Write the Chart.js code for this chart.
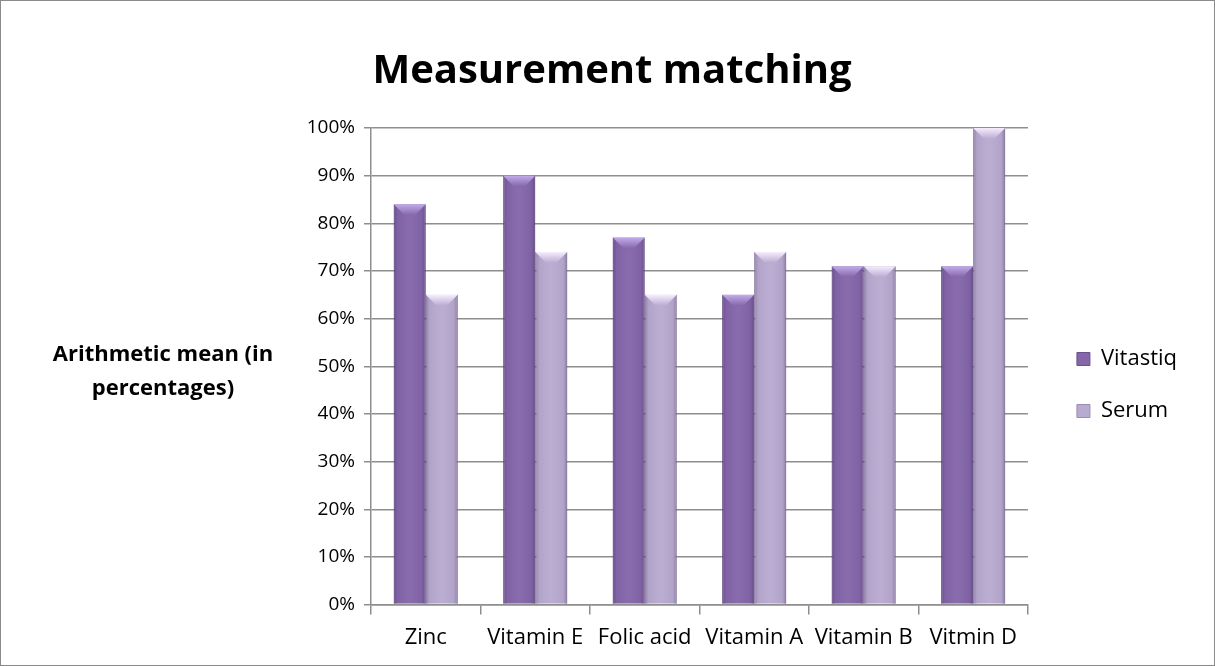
<!DOCTYPE html>
<html>
<head>
<meta charset="utf-8">
<script src="https://cdn.jsdelivr.net/npm/chart.js@4.4.1/dist/chart.umd.min.js"></script>
<style>
  html, body { margin: 0; padding: 0; background: #fff; }
  #wrap { position: relative; width: 1215px; height: 666px; box-sizing: border-box; border: 1px solid #8a8a8a; }
  canvas { display: block; }
</style>
</head>
<body>
<div id="wrap"><canvas id="chart"></canvas></div>
<script>
// data
const categories = ["Zinc", "Vitamin E", "Folic acid", "Vitamin A", "Vitamin B", "Vitmin D"];
const vitastiq = [84, 90, 77, 65, 71, 71];
const serum = [65, 74, 65, 74, 71, 100];
const yTicks = [0, 10, 20, 30, 40, 50, 60, 70, 80, 90, 100];
const chartTitle = "Measurement matching";
const yTitle = ["Arithmetic mean (in", "percentages)"];

const FONT = "'Open Sans', Lato, sans-serif";

// side shading + top bevel, like the office 3d-ish bars
const bevelBars = {
  id: "bevelBars",
  afterDatasetsDraw(chart) {
    const ctx = chart.ctx;
    chart.data.datasets.forEach((ds, i) => {
      const meta = chart.getDatasetMeta(i);
      meta.data.forEach((bar) => {
        const left = bar.x - bar.width / 2;
        const right = bar.x + bar.width / 2;
        const top = bar.y;
        const bottom = bar.base;
        ctx.save();
        const g = ctx.createLinearGradient(left, 0, right, 0);
        g.addColorStop(0, "rgba(40,20,70,0.28)");
        g.addColorStop(0.12, "rgba(40,20,70,0.05)");
        g.addColorStop(0.5, "rgba(255,255,255,0.04)");
        g.addColorStop(0.88, "rgba(40,20,70,0.05)");
        g.addColorStop(1, "rgba(40,20,70,0.3)");
        ctx.fillStyle = g;
        ctx.fillRect(left, top, right - left, bottom - top);
        const d = 11;
        const bg = ctx.createLinearGradient(0, top, 0, top + d);
        bg.addColorStop(0, ds.bevelColor);
        bg.addColorStop(1, ds.backgroundColor);
        ctx.beginPath();
        ctx.moveTo(left, top);
        ctx.lineTo(right, top);
        ctx.lineTo(right - d, top + d);
        ctx.lineTo(left + d, top + d);
        ctx.closePath();
        ctx.fillStyle = bg;
        ctx.fill();
        ctx.restore();
      });
    });
  }
};

// horizontal y axis title on the left
const sideTitle = {
  id: "sideTitle",
  afterDraw(chart) {
    const ctx = chart.ctx;
    const area = chart.chartArea;
    ctx.save();
    ctx.font = "bold 22px " + FONT;
    ctx.fillStyle = "#000";
    ctx.textAlign = "center";
    ctx.textBaseline = "middle";
    const cx = 162;
    const cy = (area.top + area.bottom) / 2 - 12;
    yTitle.forEach((line, k) => ctx.fillText(line, cx, cy + k * 34));
    ctx.restore();
  }
};

// nudge the legend a little further from the plot, as in the original
const legendNudge = {
  id: "legendNudge",
  afterLayout(chart) {
    const lg = chart.legend;
    if (!lg) return;
    lg.left += 19; lg.right += 19;
    lg.top += 49; lg.bottom += 49;
  }
};

const canvas = document.getElementById("chart");
canvas.width = 1213;
canvas.height = 664;

new Chart(canvas.getContext("2d"), {
  type: "bar",
  data: {
    labels: categories,
    datasets: [
      {
        label: "Vitastiq",
        data: vitastiq,
        backgroundColor: "#8466a9",
        borderColor: "#6a5190",
        borderWidth: 1,
        bevelColor: "#c2acea",
      },
      {
        label: "Serum",
        data: serum,
        backgroundColor: "#b9aad0",
        borderColor: "#9a8cb2",
        borderWidth: 1,
        bevelColor: "#f6eefe",
      },
    ],
  },
  options: {
    responsive: false,
    animation: false,
    layout: {
      padding: { left: 55, right: 46, top: 10, bottom: 4 },
    },
    datasets: {
      bar: { categoryPercentage: 0.585, barPercentage: 1.0 },
    },
    plugins: {
      title: {
        display: true,
        text: chartTitle,
        color: "#000",
        font: { family: FONT, size: 40, weight: "bold" },
        padding: { top: 37, bottom: 32 },
      },
      legend: {
        position: "right",
        align: "center",
        labels: {
          color: "#000",
          font: { family: FONT, size: 22 },
          boxWidth: 13,
          boxHeight: 13,
          padding: 30,
        },
      },
      tooltip: { enabled: false },
    },
    scales: {
      x: {
        offset: true,
        grid: {
          offset: true,
          drawOnChartArea: false,
          drawTicks: true,
          tickLength: 10,
          color: "#8e8e8e",
          lineWidth: 1.5,
        },
        border: { color: "#8e8e8e", width: 1.5 },
        ticks: {
          color: "#000",
          font: { family: FONT, size: 22 },
          padding: 10,
          maxRotation: 0,
          autoSkip: false,
        },
      },
      y: {
        min: 0,
        max: 100,
        afterBuildTicks(axis) {
          axis.ticks = yTicks.map((v) => ({ value: v }));
        },
        afterFit(axis) {
          axis.width = 315;
        },
        grid: {
          color: "#8e8e8e",
          lineWidth: 1.5,
          tickLength: 7,
        },
        border: { color: "#8e8e8e", width: 1.5 },
        ticks: {
          color: "#000",
          font: { family: FONT, size: 19 },
          padding: 9,
          callback: (v) => v + "%",
        },
      },
    },
  },
  plugins: [bevelBars, sideTitle, legendNudge],
});
</script>
</body>
</html>
